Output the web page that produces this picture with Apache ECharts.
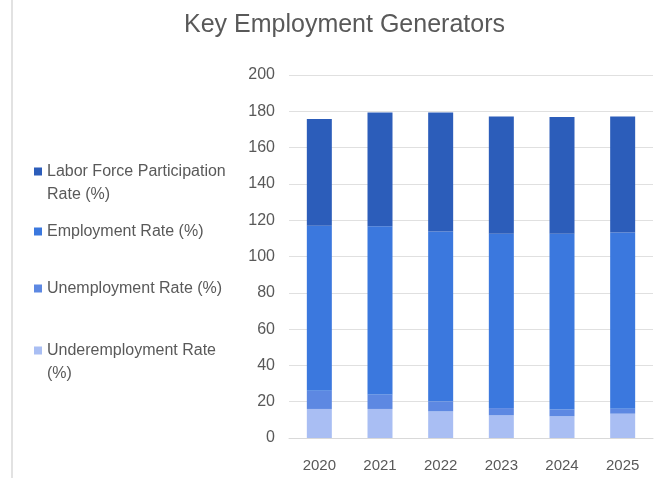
<!DOCTYPE html>
<html>
<head>
<meta charset="utf-8">
<script src="https://cdn.jsdelivr.net/npm/echarts@6/dist/echarts.min.js"></script>
<style>html,body{margin:0;padding:0;background:#fff;}#c{width:659px;height:486px;}</style>
</head>
<body>
<div id="c"></div>
<script>
const years = ['2020', '2021', '2022', '2023', '2024', '2025'];
const underemployment = [16, 16, 14.7, 12.5, 12, 13.4];
const unemployment = [10, 8, 5.5, 4, 3.7, 2.7];
const employment = [91, 92.6, 93.6, 96, 96.9, 97.1];
const laborForce = [58.7, 62.8, 65.5, 64.6, 64.2, 64];
const yTicks = {min: 0, max: 200, interval: 20};

const names = {
  lfp: 'Labor Force Participation Rate (%)',
  emp: 'Employment Rate (%)',
  unemp: 'Unemployment Rate (%)',
  under: 'Underemployment Rate (%)'
};
const colors = {lfp: '#2C5DBA', emp: '#3B78DE', unemp: '#5D88E2', under: '#A9BEF3'};
const FONT = 'Liberation Sans, Arial, sans-serif';
const txt = '#595959';
const LH = 23;

function legendFor(name, top, twoLine, fmt) {
  return {
    data: [name], left: 29, top: top, orient: 'vertical',
    itemWidth: 8, itemHeight: twoLine ? 31 : 8, itemGap: 6,
    icon: twoLine ? 'path://M0,0h8v8h-8z M0,31L8,31' : 'rect',
    formatter: fmt ? fmt : undefined,
    selectedMode: false,
    textStyle: {color: txt, fontSize: 16, fontFamily: FONT, lineHeight: LH}
  };
}

const chart = echarts.init(document.getElementById('c'));
chart.setOption({
  backgroundColor: '#fff',
  animation: false,
  title: {text: 'Key Employment Generators', left: 179, top: 8,
    textStyle: {color: txt, fontSize: 25, fontWeight: 'normal', fontFamily: FONT}},
  legend: [
    legendFor(names.lfp, 155, true, function(){ return 'Labor Force Participation\nRate (%)'; }),
    legendFor(names.emp, 215, false),
    legendFor(names.unemp, 272, false),
    legendFor(names.under, 334, true, function(){ return 'Underemployment Rate\n(%)'; })
  ],
  graphic: [{type: 'line', shape: {x1: 12, y1: 0, x2: 12, y2: 478}, style: {stroke: '#d9d9d9', lineWidth: 1.5}}],
  grid: {left: 289, right: 6, top: 75, bottom: 48},
  xAxis: {type: 'category', data: years,
    axisLine: {lineStyle: {color: '#d9d9d9'}}, axisTick: {show: false},
    axisLabel: {color: txt, fontSize: 15, fontFamily: FONT, margin: 20}},
  yAxis: {type: 'value', min: yTicks.min, max: yTicks.max, interval: yTicks.interval,
    axisLine: {show: false}, axisTick: {show: false},
    splitLine: {lineStyle: {color: '#e0e0e0'}},
    axisLabel: {color: txt, fontSize: 16, fontFamily: FONT, margin: 14}},
  series: [
    {name: names.under, type: 'bar', stack: 's', data: underemployment, barWidth: 25, itemStyle: {color: colors.under}},
    {name: names.unemp, type: 'bar', stack: 's', data: unemployment, itemStyle: {color: colors.unemp}},
    {name: names.emp, type: 'bar', stack: 's', data: employment, itemStyle: {color: colors.emp}},
    {name: names.lfp, type: 'bar', stack: 's', data: laborForce, itemStyle: {color: colors.lfp}}
  ]
});
</script>
</body>
</html>
